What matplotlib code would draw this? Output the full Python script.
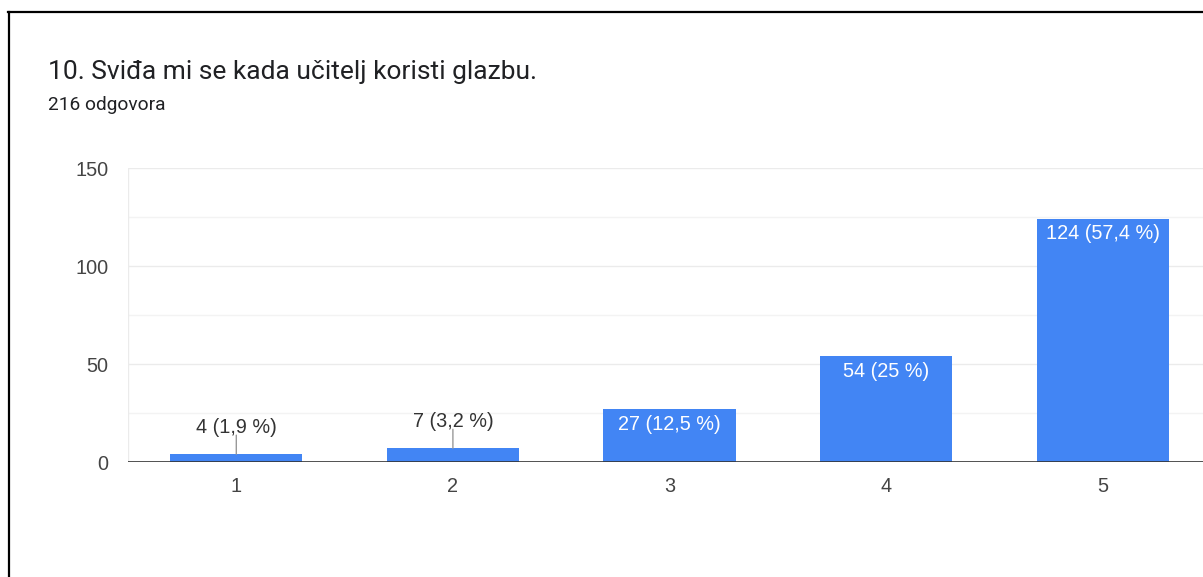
import matplotlib.pyplot as plt
from matplotlib.lines import Line2D

W, H = 1203, 577

categories = ["1", "2", "3", "4", "5"]
counts = [4, 7, 27, 54, 124]
labels = ["4 (1,9 %)", "7 (3,2 %)", "27 (12,5 %)", "54 (25 %)", "124 (57,4 %)"]
yticks = [0, 50, 100, 150]
minor_grid = [25, 75, 125]

fig = plt.figure(figsize=(W / 100, H / 100), dpi=100)
fig.patch.set_facecolor("white")

# plot area in pixels: left 128, right 1211 (past the edge), y=0 at 462, y=150 at 168
ax = fig.add_axes([128 / W, (H - 462) / H, (1211 - 128) / W, 294 / H])
x = list(range(len(categories)))
ax.bar(x, counts, width=0.61, color="#4285f4", zorder=3)
ax.set_xlim(-0.5, 4.5)
ax.set_ylim(0, 150)

for g in yticks[1:]:
    ax.axhline(g, color="#ebebeb", lw=1, zorder=1)
for g in minor_grid:
    ax.axhline(g, color="#f3f3f3", lw=1, zorder=1)
ax.axvline(-0.5, color="#ebebeb", lw=1, zorder=1)
ax.axhline(0, color="#333333", lw=1.2, zorder=4)

for s in ax.spines.values():
    s.set_visible(False)

fs = 14.3
ax.set_xticks(x)
ax.set_xticklabels(categories)
ax.set_yticks(yticks)
ax.tick_params(length=0, labelsize=fs, labelcolor="#444444")
ax.tick_params(axis="x", pad=11)
ax.tick_params(axis="y", pad=14)
for t in ax.get_xticklabels() + ax.get_yticklabels():
    t.set_family("Liberation Sans")

for xi, c, lab in zip(x, counts, labels):
    if c < 15:
        ax.annotate(lab, xy=(xi, c), xytext=(0, 27), textcoords="offset pixels",
                    ha="center", va="center", fontsize=fs, color="#333333",
                    family="Liberation Sans")
        ax.annotate("", xy=(xi, c), xytext=(0, 19), textcoords="offset pixels",
                    arrowprops=dict(arrowstyle="-", color="#999999", lw=1,
                                    shrinkA=0, shrinkB=0))
    else:
        ax.annotate(lab, xy=(xi, c), xytext=(0, -15), textcoords="offset pixels",
                    ha="center", va="center", fontsize=fs, color="white",
                    family="Liberation Sans", zorder=5)

fig.text(48 / W, 1 - 72 / H, "10. Sviđa mi se kada učitelj koristi glazbu.",
         fontsize=19, color="#202124", family="Roboto", va="center", ha="left")
fig.text(48 / W, 1 - 105 / H, "216 odgovora", fontsize=13.8, color="#202124",
         family="Roboto", va="center", ha="left")

# screenshot frame
fig.add_artist(Line2D([8 / W, 1], [1 - 12 / H, 1 - 12 / H], color="black", lw=1.6,
                      transform=fig.transFigure))
fig.add_artist(Line2D([9 / W, 9 / W], [0, 1 - 12 / H], color="black", lw=1.6,
                      transform=fig.transFigure))

fig.savefig("out.png", dpi=100)
